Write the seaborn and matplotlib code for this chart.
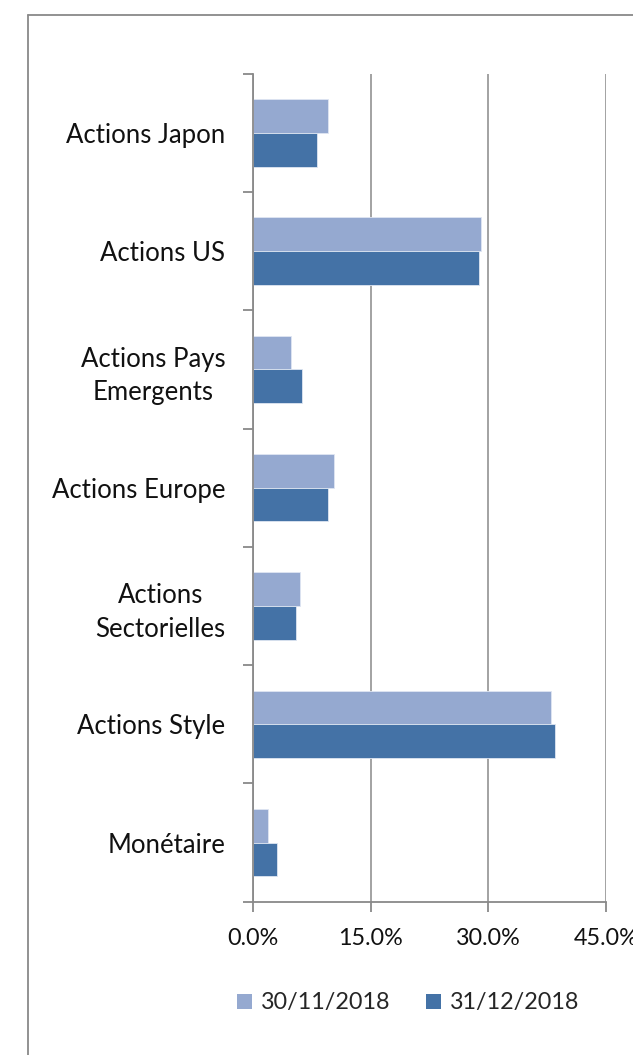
import matplotlib
matplotlib.use("Agg")
import matplotlib.pyplot as plt
import matplotlib.patches as mpatches
from matplotlib.lines import Line2D
from matplotlib.ticker import FixedLocator, FuncFormatter
import seaborn as sns
import pandas as pd

categories = ["Actions Japon", "Actions US", "Actions Pays\nEmergents", "Actions Europe",
              "Actions\nSectorielles", "Actions Style", "Monétaire"]
series_names = ["30/11/2018", "31/12/2018"]
values_nov = [9.6, 29.1, 4.8, 10.3, 6.0, 38.0, 1.9]
values_dec = [8.2, 28.8, 6.2, 9.5, 5.5, 38.5, 3.0]
x_ticks = [0, 15, 30, 45]

colors = ["#95A9D0", "#4472A6"]
grey = "#898989"

rows = []
for c, a, b in zip(categories, values_nov, values_dec):
    rows.append({"cat": c, "serie": series_names[0], "val": a})
    rows.append({"cat": c, "serie": series_names[1], "val": b})
df = pd.DataFrame(rows)

sns.set_theme(style="white")
plt.rcParams["font.family"] = ["Lato", "DejaVu Sans"]

fig = plt.figure(figsize=(6.33, 10.55), dpi=100)
ax = fig.add_axes([253/633, 1-901.7/1055, (606-253)/633, (901.7-73.7)/1055])

sns.barplot(data=df, y="cat", x="val", hue="serie", order=categories,
            hue_order=series_names, palette=colors, orient="h", width=0.57,
            gap=0, ax=ax, edgecolor="#dfe6f2", linewidth=0.6, legend=False,
            saturation=1)

ax.set_xlim(0, 45)
ax.set_ylim(6.5, -0.5)
ax.set_xlabel("")
ax.set_ylabel("")
ax.xaxis.set_major_locator(FixedLocator(x_ticks))
ax.xaxis.set_major_formatter(FuncFormatter(lambda v, p: f"{v:.1f}%"))
ax.grid(axis="x", color=grey, linewidth=1.1)
ax.grid(axis="y", visible=False)
ax.set_axisbelow(True)

for s in ["top", "right"]:
    ax.spines[s].set_visible(False)
for s in ["left", "bottom"]:
    ax.spines[s].set_color(grey)
    ax.spines[s].set_linewidth(1.3)

ax.yaxis.set_minor_locator(FixedLocator([i - 0.5 for i in range(len(categories) + 1)]))
ax.tick_params(axis="y", which="major", length=0, pad=20, labelsize=18.5, labelcolor="#111111")
ax.tick_params(axis="y", which="minor", left=True, length=7, width=1.3, color=grey)
ax.tick_params(axis="x", which="major", bottom=True, length=7, width=1.3, color=grey,
               pad=12, labelsize=16.8, labelcolor="#111111")
for lab in ax.get_yticklabels():
    lab.set_multialignment("center")
    lab.set_linespacing(1.42)

# outer frame
fig.add_artist(Line2D([28/633, 1], [1-15/1055, 1-15/1055], color=grey, lw=1.3))
fig.add_artist(Line2D([28/633, 28/633], [0, 1-15/1055], color=grey, lw=1.3))

handles = [mpatches.Patch(facecolor=c, edgecolor="none") for c in colors]
fig.legend(handles, series_names, loc="center", bbox_to_anchor=(408/633, 1-1003/1055),
           ncol=2, frameon=False, fontsize=16.8, handlelength=0.65, handleheight=0.65,
           handletextpad=0.4, columnspacing=1.5)

fig.savefig("out.png", dpi=100)
